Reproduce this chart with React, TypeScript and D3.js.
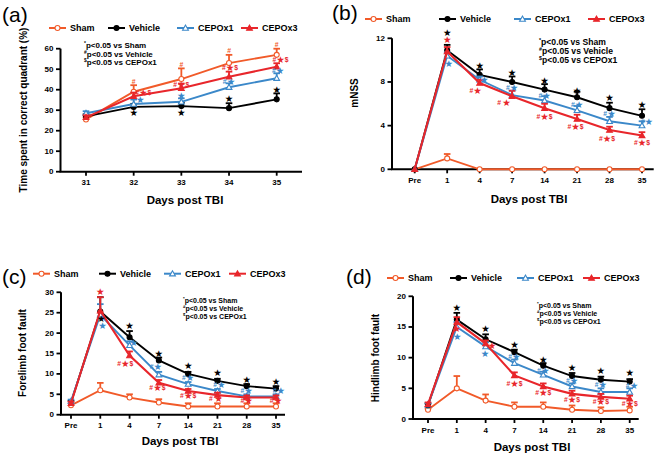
import React from "react";
import * as d3 from "d3";

const W = 664;
const H = 456;
const FONT = "Arial, 'Liberation Sans', Helvetica, sans-serif";

const GROUPS = ["Sham", "Vehicle", "CEPOx1", "CEPOx3"];
const COLORS: Record<string, string> = {
  Sham: "#f15a29",
  Vehicle: "#000000",
  CEPOx1: "#3b88c9",
  CEPOx3: "#e8262b",
};
const NOTES = [
  ["*", "p<0.05 vs Sham"],
  ["#", "p<0.05 vs Vehicle"],
  ["$", "p<0.05 vs CEPOx1"],
];

// ---- (a) probe trial
const DAYS_A = ["31", "32", "33", "34", "35"];
const A_SHAM = [25.5, 39, 45.2, 53, 57];
const A_SHAM_ERR = [1, 3.2, 5.2, 4, 3];
const A_VEH = [27, 31.6, 32, 31, 35.3];
const A_VEH_ERR = [1, 1.5, 1.7, 2.4, 2.9];
const A_X1 = [28.5, 33, 34.1, 41.2, 45.6];
const A_X1_ERR = [1, 2.2, 1.7, 1.9, 2.4];
const A_X3 = [26.5, 36.8, 40.7, 46.3, 51.2];
const A_X3_ERR = [1, 1.8, 2.3, 2.5, 1.7];
// [day, value, text, group, shift in steps]
const A_MARKS: [string, number, string, string, number][] = [
  ["32", 44.4, "#", "Sham", 0],
  ["33", 52.5, "#", "Sham", 0],
  ["34", 59.4, "#", "Sham", 0],
  ["35", 62.3, "#", "Sham", 0],
  ["32", 39, "#*$", "CEPOx3", 0.2],
  ["33", 42.8, "#*$", "CEPOx3", 0],
  ["34", 51.2, "#*$", "CEPOx3", 0.02],
  ["35", 55, "#*$", "CEPOx3", 0.08],
  ["32", 35.4, "*", "CEPOx1", 0.14],
  ["33", 37.4, "*", "CEPOx1", 0],
  ["34", 44.2, "#*", "CEPOx1", 0],
  ["35", 49.5, "#*", "CEPOx1", 0.03],
  ["32", 29.3, "*", "Vehicle", 0],
  ["33", 29.3, "*", "Vehicle", 0],
  ["34", 35.8, "*", "Vehicle", 0],
  ["35", 40.3, "*", "Vehicle", 0],
];

// ---- (b)-(d) shared days
const DAYS = ["Pre", "1", "4", "7", "14", "21", "28", "35"];

const B_SHAM = [0, 1.0, 0, 0, 0, 0, 0, 0];
const B_SHAM_ERR = [0, 0.4, 0, 0, 0, 0, 0, 0];
const B_VEH = [0, 10.9, 8.65, 8.0, 7.3, 6.6, 5.6, 4.9];
const B_VEH_ERR = [0, 0.5, 0.5, 0.5, 0.5, 0.5, 0.5, 0.6];
const B_X1 = [0, 10.4, 8.2, 6.8, 6.3, 5.4, 4.4, 4.0];
const B_X1_ERR = [0, 0.3, 0.3, 0.4, 0.4, 0.4, 0.4, 0.4];
const B_X3 = [0, 10.8, 7.9, 6.7, 5.6, 4.6, 3.6, 3.1];
const B_X3_ERR = [0, 0.4, 0.3, 0.5, 0.4, 0.4, 0.3, 0.3];
const B_MARKS: [string, number, string, string, number][] = [
  ["1", 12.6, "*", "Vehicle", 0],
  ["1", 11.9, "*", "CEPOx3", 0],
  ["1", 9.7, "*", "CEPOx1", 0.05],
  ["4", 9.6, "*", "Vehicle", 0],
  ["4", 8.3, "*", "CEPOx1", 0.14],
  ["4", 7.3, "#*", "CEPOx3", -0.12],
  ["7", 8.9, "*", "Vehicle", 0],
  ["7", 7.5, "#*", "CEPOx1", 0],
  ["7", 6.2, "# *", "CEPOx3", -0.25],
  ["14", 8.2, "*", "Vehicle", 0],
  ["14", 6.8, "#*", "CEPOx1", 0],
  ["14", 4.9, "#*$", "CEPOx3", 0],
  ["21", 7.3, "*", "Vehicle", 0],
  ["21", 6.0, "#*", "CEPOx1", 0],
  ["21", 4.0, "#*$", "CEPOx3", -0.05],
  ["28", 6.6, "*", "Vehicle", 0],
  ["28", 5.2, "#*", "CEPOx1", 0],
  ["28", 2.9, "#*$", "CEPOx3", -0.08],
  ["35", 5.95, "*", "Vehicle", 0],
  ["35", 4.45, "#*", "CEPOx1", 0.15],
  ["35", 2.5, "#*$", "CEPOx3", 0],
];

const C_SHAM = [2.3, 6, 4.2, 3, 2, 2, 2, 2];
const C_SHAM_ERR = [0, 1.8, 0.8, 0.8, 0.8, 0.8, 0.8, 0.8];
const C_VEH = [3, 25.3, 19, 13.3, 10, 8.3, 7, 6.4];
const C_VEH_ERR = [0.4, 3.5, 1.5, 0.7, 0.5, 0.5, 0.5, 0.6];
const C_X1 = [3.3, 24.5, 17, 9.8, 7.5, 5.8, 4.5, 4.5];
const C_X1_ERR = [0.4, 2.6, 1, 0.7, 0.5, 0.5, 0.5, 0.5];
const C_X3 = [2.8, 25.5, 14.5, 7.8, 5.8, 4.8, 4.2, 4.2];
const C_X3_ERR = [0.4, 3.3, 1, 0.7, 0.5, 0.6, 0.5, 0.5];
const C_MARKS: [string, number, string, string, number][] = [
  ["1", 30.2, "*", "CEPOx3", 0],
  ["1", 23.7, "*", "Vehicle", 0.03],
  ["1", 22.1, "*", "CEPOx1", 0.08],
  ["4", 22.1, "*", "Vehicle", 0],
  ["4", 17.9, "*", "CEPOx1", 0.14],
  ["4", 12.7, "#*$", "CEPOx3", -0.15],
  ["7", 15.1, "*", "Vehicle", 0],
  ["7", 11.9, "#*", "CEPOx1", -0.1],
  ["7", 6.7, "#*$", "CEPOx3", -0.05],
  ["14", 12.1, "*", "Vehicle", 0],
  ["14", 9.2, "#*", "CEPOx1", 0],
  ["14", 4.9, "#*$", "CEPOx3", 0],
  ["21", 10.5, "*", "Vehicle", 0],
  ["21", 7.5, "#*", "CEPOx1", 0.07],
  ["21", 4.1, "# *", "CEPOx3", -0.05],
  ["28", 8.8, "*", "Vehicle", 0],
  ["28", 6.1, "#*", "CEPOx1", 0],
  ["28", 3.5, "#*", "CEPOx3", 0],
  ["35", 8.2, "*", "Vehicle", 0],
  ["35", 6.1, "#*", "CEPOx1", 0.1],
  ["35", 3.5, "#*", "CEPOx3", 0],
];

const D_SHAM = [1.5, 5, 3, 2, 2, 1.5, 1.3, 1.4];
const D_SHAM_ERR = [0.2, 2, 1, 0.7, 0.7, 0.7, 0.6, 0.6];
const D_VEH = [2.2, 16.2, 13, 10.9, 8.7, 7, 6.4, 6.1];
const D_VEH_ERR = [0.3, 1.1, 0.8, 0.4, 0.4, 0.5, 0.5, 0.4];
const D_X1 = [2.3, 15, 11.8, 9.1, 7.2, 5.3, 4.4, 4.4];
const D_X1_ERR = [0.3, 0.8, 0.7, 0.6, 0.5, 0.5, 0.6, 0.6];
const D_X3 = [2.4, 15.8, 12.3, 7.1, 5.3, 4.1, 3.6, 3.3];
const D_X3_ERR = [0.3, 0.8, 0.5, 0.5, 0.5, 0.5, 0.5, 0.5];
const D_MARKS: [string, number, string, string, number][] = [
  ["1", 18.3, "*", "Vehicle", 0],
  ["1", 14.8, "*", "CEPOx3", 0],
  ["1", 13.6, "*", "CEPOx1", 0.02],
  ["4", 14.8, "*", "Vehicle", 0],
  ["4", 12.1, "*", "CEPOx3", 0.22],
  ["4", 10.8, "*", "CEPOx1", -0.02],
  ["7", 12.2, "*", "Vehicle", 0],
  ["7", 10.2, "#*", "CEPOx1", 0],
  ["7", 5.9, "#*$", "CEPOx3", 0],
  ["14", 9.8, "*", "Vehicle", 0],
  ["14", 8.0, "#*", "CEPOx1", 0],
  ["14", 4.4, "#*$", "CEPOx3", 0],
  ["21", 8.4, "*", "Vehicle", 0],
  ["21", 6.4, "#*", "CEPOx1", 0],
  ["21", 3.3, "#*$", "CEPOx3", 0],
  ["28", 8.0, "*", "Vehicle", 0],
  ["28", 5.75, "#*", "CEPOx1", 0],
  ["28", 2.9, "#*$", "CEPOx3", 0],
  ["35", 7.7, "*", "Vehicle", 0],
  ["35", 5.6, "#*", "CEPOx1", 0.08],
  ["35", 2.6, "#*$", "CEPOx3", 0],
];

type PanelCfg = {
  label: string;
  labelX: number;
  labelY: number;
  days: string[];
  values: number[][];
  errors: number[][];
  marks: [string, number, string, string, number][];
  yMax: number;
  yStep: number;
  xFirst: number;
  xLast: number;
  axisX: number;
  axisEnd: number;
  y0: number;
  yTop: number;
  legendY: number;
  legendX: number[];
  noteX: number;
  noteY: number;
  noteFs: number;
  noteDy: number;
  yLabel: string;
  yLabelX: number;
  yLabelY: number;
  xLabelX: number;
  xLabelY: number;
};

const PANELS: PanelCfg[] = [
  {
    label: "(a)", labelX: 2, labelY: 22, days: DAYS_A,
    values: [A_SHAM, A_VEH, A_X1, A_X3], errors: [A_SHAM_ERR, A_VEH_ERR, A_X1_ERR, A_X3_ERR],
    marks: A_MARKS, yMax: 60, yStep: 10,
    xFirst: 86, xLast: 276.7, axisX: 60.5, axisEnd: 302, y0: 171.7, yTop: 48.7,
    legendY: 28, legendX: [49, 108, 177, 241],
    noteX: 84, noteY: 45, noteFs: 8, noteDy: 8.5,
    yLabel: "Time spent in correct quadrant (%)", yLabelX: 23, yLabelY: 110,
    xLabelX: 185, xLabelY: 204,
  },
  {
    label: "(b)", labelX: 332, labelY: 20, days: DAYS,
    values: [B_SHAM, B_VEH, B_X1, B_X3], errors: [B_SHAM_ERR, B_VEH_ERR, B_X1_ERR, B_X3_ERR],
    marks: B_MARKS, yMax: 12, yStep: 4,
    xFirst: 414.7, xLast: 642, axisX: 392, axisEnd: 653.7, y0: 169.3, yTop: 38.3,
    legendY: 19, legendX: [365, 439, 514, 588],
    noteX: 539, noteY: 42, noteFs: 8.6, noteDy: 9.2,
    yLabel: "mNSS", yLabelX: 354, yLabelY: 93,
    xLabelX: 529, xLabelY: 203,
  },
  {
    label: "(c)", labelX: 2, labelY: 284, days: DAYS,
    values: [C_SHAM, C_VEH, C_X1, C_X3], errors: [C_SHAM_ERR, C_VEH_ERR, C_X1_ERR, C_X3_ERR],
    marks: C_MARKS, yMax: 30, yStep: 5,
    xFirst: 71, xLast: 276, axisX: 61, axisEnd: 285, y0: 414.7, yTop: 292.3,
    legendY: 273.7, legendX: [33, 99, 164, 229],
    noteX: 183, noteY: 300, noteFs: 7, noteDy: 8.2,
    yLabel: "Forelimb foot fault", yLabelX: 22, yLabelY: 353,
    xLabelX: 180, xLabelY: 445,
  },
  {
    label: "(d)", labelX: 346, labelY: 284, days: DAYS,
    values: [D_SHAM, D_VEH, D_X1, D_X3], errors: [D_SHAM_ERR, D_VEH_ERR, D_X1_ERR, D_X3_ERR],
    marks: D_MARKS, yMax: 20, yStep: 5,
    xFirst: 428, xLast: 629.7, axisX: 413, axisEnd: 638.7, y0: 419, yTop: 296.3,
    legendY: 278, legendX: [387, 450, 517, 583],
    noteX: 537, noteY: 305, noteFs: 7, noteDy: 8,
    yLabel: "Hindlimb foot fault", yLabelX: 375, yLabelY: 358,
    xLabelX: 532, xLabelY: 451,
  },
];

const Marker = ({ group, x, y }: { group: string; x: number; y: number }) => {
  const c = COLORS[group];
  if (group === "Sham" || group === "Vehicle") {
    return (
      <circle cx={x} cy={y} r={2.5} fill={group === "Sham" ? "#fff" : c} stroke={c} strokeWidth={1.1} />
    );
  }
  const s = 2.9;
  const pts = `${x},${y - s} ${x - s},${y + s * 0.75} ${x + s},${y + s * 0.75}`;
  return <polygon points={pts} fill={group === "CEPOx1" ? "#fff" : c} stroke={c} strokeWidth={1.1} />;
};

const SigText = ({ x, y, text, color }: { x: number; y: number; text: string; color: string }) => (
  <text x={x} y={y} textAnchor="middle" dominantBaseline="central" fill={color} fontFamily={FONT} fontWeight="bold">
    {text.split("").map((ch, i) =>
      ch === "*" ? (
        <tspan key={i} fontSize={9.5} fontFamily="'DejaVu Sans', sans-serif">★</tspan>
      ) : ch === " " ? (
        <tspan key={i} fontSize={5}>{"\u00a0"}</tspan>
      ) : (
        <tspan key={i} fontSize={6.8}>{ch}</tspan>
      )
    )}
  </text>
);

const Panel = ({ cfg }: { cfg: PanelCfg }) => {
  const x = d3.scalePoint<string>().domain(cfg.days).range([cfg.xFirst, cfg.xLast]);
  const y = d3.scaleLinear().domain([0, cfg.yMax]).range([cfg.y0, cfg.yTop]);
  const step = x.step();
  const yTicks = d3.range(0, cfg.yMax + 0.001, cfg.yStep);
  const line = d3
    .line<number>()
    .x((_, i) => x(cfg.days[i]) ?? 0)
    .y((d) => y(d));

  return (
    <g>
      <text x={cfg.labelX} y={cfg.labelY} fontSize={21} fontFamily={FONT}>
        {cfg.label}
      </text>

      {/* legend */}
      {GROUPS.map((g, i) => {
        const lx = cfg.legendX[i];
        return (
          <g key={g}>
            <line x1={lx} x2={lx + 17} y1={cfg.legendY} y2={cfg.legendY} stroke={COLORS[g]} strokeWidth={2} />
            <Marker group={g} x={lx + 8.5} y={cfg.legendY} />
            <text x={lx + 21} y={cfg.legendY} dominantBaseline="central" fontSize={9} fontWeight="bold" fontFamily={FONT}>
              {g}
            </text>
          </g>
        );
      })}

      {/* stats notes */}
      {NOTES.map(([sym, txt], i) => (
        <text key={i} x={cfg.noteX} y={cfg.noteY + i * cfg.noteDy} dominantBaseline="central" fontSize={cfg.noteFs} fontWeight="bold" fontFamily={FONT}>
          <tspan fontSize={cfg.noteFs * 0.62} dy={-2}>{sym}</tspan>
          <tspan dy={2}>{txt}</tspan>
        </text>
      ))}

      {/* axes */}
      <line x1={cfg.axisX} x2={cfg.axisX} y1={cfg.yTop} y2={cfg.y0} stroke="#000" strokeWidth={2} />
      <line x1={cfg.axisX - 1} x2={cfg.axisEnd} y1={cfg.y0} y2={cfg.y0} stroke="#000" strokeWidth={2} />
      {yTicks.map((t) => (
        <g key={t}>
          <line x1={cfg.axisX - 4.5} x2={cfg.axisX} y1={y(t)} y2={y(t)} stroke="#000" strokeWidth={1.8} />
          <text x={cfg.axisX - 7} y={y(t)} textAnchor="end" dominantBaseline="central" fontSize={8} fontWeight="bold" fontFamily={FONT}>
            {t}
          </text>
        </g>
      ))}
      {cfg.days.map((d) => (
        <g key={d}>
          <line x1={x(d)} x2={x(d)} y1={cfg.y0} y2={cfg.y0 + 4} stroke="#000" strokeWidth={1.8} />
          <text x={x(d)} y={cfg.y0 + 13.5} textAnchor="middle" fontSize={8} fontWeight="bold" fontFamily={FONT}>
            {d}
          </text>
        </g>
      ))}
      <text x={cfg.xLabelX} y={cfg.xLabelY} textAnchor="middle" fontSize={11.5} fontWeight="bold" fontFamily={FONT}>
        Days post TBI
      </text>
      <text
        transform={`translate(${cfg.yLabelX},${cfg.yLabelY}) rotate(-90)`}
        textAnchor="middle"
        dominantBaseline="central"
        fontSize={10}
        fontWeight="bold"
        fontFamily={FONT}
      >
        {cfg.yLabel}
      </text>

      {/* series */}
      {GROUPS.map((g, gi) => {
        const vals = cfg.values[gi];
        const errs = cfg.errors[gi];
        const c = COLORS[g];
        return (
          <g key={g}>
            {vals.map((v, i) => {
              const e = errs[i];
              if (!e) return null;
              const px = x(cfg.days[i]) ?? 0;
              return (
                <g key={i}>
                  <line x1={px} x2={px} y1={y(v)} y2={y(v + e)} stroke={c} strokeWidth={1.8} />
                  <line x1={px - 3.3} x2={px + 3.3} y1={y(v + e)} y2={y(v + e)} stroke={c} strokeWidth={1.8} />
                </g>
              );
            })}
            <path d={line(vals) ?? ""} fill="none" stroke={c} strokeWidth={g === "CEPOx3" ? 2.1 : 1.9} />
            {vals.map((v, i) => (
              <Marker key={i} group={g} x={x(cfg.days[i]) ?? 0} y={y(v)} />
            ))}
          </g>
        );
      })}

      {/* significance marks */}
      {cfg.marks.map(([d, v, t, g, sh], i) => (
        <SigText key={i} x={(x(d) ?? 0) + sh * step} y={y(v)} text={t} color={COLORS[g]} />
      ))}
    </g>
  );
};

export default function App() {
  return (
    <svg
      width={W}
      height={H}
      viewBox={`0 0 ${W} ${H}`}
      style={{ position: "absolute", left: 0, top: 0, background: "#fff" }}
    >
      <rect width={W} height={H} fill="#fff" />
      {PANELS.map((p) => (
        <Panel key={p.label} cfg={p} />
      ))}
    </svg>
  );
}
